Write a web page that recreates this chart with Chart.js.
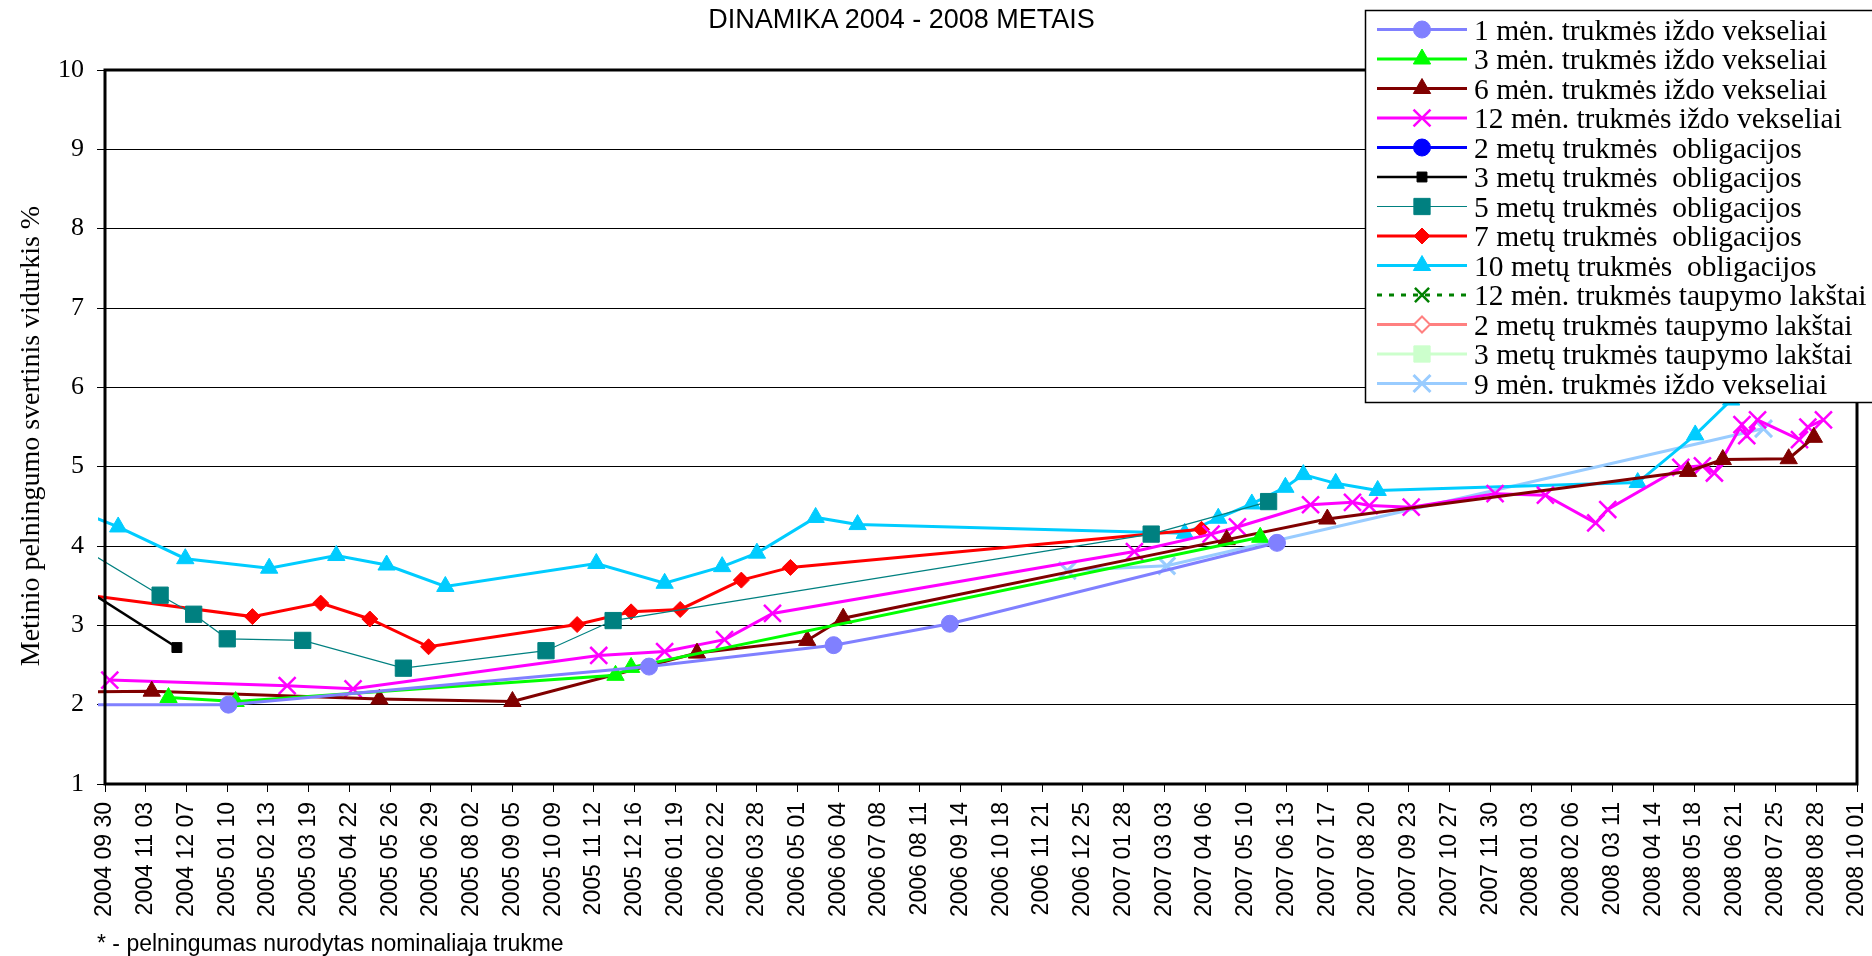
<!DOCTYPE html>
<html lang="lt">
<head>
<meta charset="utf-8">
<title>Dinamika 2004 - 2008 metais</title>
<script src="https://cdn.jsdelivr.net/npm/chart.js@4.4.1/dist/chart.umd.min.js"></script>
<style>
  html, body { margin: 0; padding: 0; background: #fff; }
  #wrap { position: relative; width: 1872px; height: 956px; overflow: hidden; }
  #chart { position: absolute; left: 0; top: 0; }
  .title { position: absolute; top: 6px; left: 0; width: 1803px; text-align: center;
           font: 27px/1 "Liberation Sans", Arial, sans-serif; color: #000; }
  .ytitle { position: absolute; left: -270px; top: 419px; width: 600px; height: 34px;
            line-height: 34px; text-align: center; transform: rotate(-90deg);
            font-family: "Liberation Serif", "Times New Roman", serif; font-size: 28px; color: #000; }
  .note { position: absolute; top: 932px; left: 97px;
          font: 23px/1 "Liberation Sans", Arial, sans-serif; color: #000; }
</style>
</head>
<body>
<div id="wrap">
  <canvas id="chart" width="1872" height="956"></canvas>
  <div class="title">DINAMIKA 2004 - 2008 METAIS</div>
  <div class="ytitle">Metinio pelningumo svertinis vidurkis %</div>
  <div class="note">* - pelningumas nurodytas nominaliaja trukme</div>
</div>
<script>
// x axis: dates, one tick every 34 days from 2004 09 30 to 2008 10 01
const axisStart = '2004-09-30';
const axisEnd = '2008-10-01';
const tickStepDays = 34;
const yTicks = [1, 2, 3, 4, 5, 6, 7, 8, 9, 10];

const oneMonthDates = ['2004-09-10', '2005-01-11', '2005-12-28', '2006-05-31', '2006-09-05', '2007-06-05'];
const oneMonthValues = [2.00, 2.00, 2.48, 2.75, 3.02, 4.04];

const threeMonthDates = ['2004-11-22', '2005-01-17', '2005-11-30', '2005-12-13', '2007-05-22'];
const threeMonthValues = [2.09, 2.04, 2.37, 2.47, 4.11];

const sixMonthDates = ['2004-09-10', '2004-11-08', '2005-05-17', '2005-09-05', '2006-02-06', '2006-05-09',
  '2006-06-08', '2007-04-24', '2007-07-17', '2008-05-13', '2008-06-11', '2008-08-05', '2008-08-26'];
const sixMonthValues = [2.16, 2.17, 2.07, 2.04, 2.65, 2.81, 3.09, 4.08, 4.34, 4.94, 5.09, 5.10, 5.37];

const twelveMonthDates = ['2004-10-04', '2005-03-01', '2005-04-25', '2005-11-16', '2006-01-10', '2006-03-01',
  '2006-04-10', '2007-02-06', '2007-04-11', '2007-05-03', '2007-07-03', '2007-08-07', '2007-08-21',
  '2007-09-25', '2007-12-04', '2008-01-15', '2008-02-26', '2008-03-07', '2008-05-07', '2008-05-25',
  '2008-06-04', '2008-06-27', '2008-07-01', '2008-07-10', '2008-08-14', '2008-08-21', '2008-09-03'];
const twelveMonthValues = [2.31, 2.24, 2.20, 2.62, 2.67, 2.82, 3.15, 3.93, 4.15, 4.24, 4.52, 4.55, 4.51,
  4.49, 4.66, 4.64, 4.29, 4.46, 4.99, 5.01, 4.92, 5.53, 5.39, 5.59, 5.34, 5.50, 5.59];

const twoYearBondDates = [];
const twoYearBondValues = [];

const threeYearBondDates = ['2004-09-10', '2004-11-29'];
const threeYearBondValues = [3.49, 2.72];

const fiveYearBondDates = ['2004-09-10', '2004-11-15', '2004-12-13', '2005-01-10', '2005-03-14', '2005-06-06',
  '2005-10-03', '2005-11-28', '2007-02-20', '2007-05-29'];
const fiveYearBondValues = [3.98, 3.38, 3.14, 2.83, 2.81, 2.46, 2.68, 3.06, 4.15, 4.56];

const sevenYearBondDates = ['2004-09-10', '2005-01-31', '2005-03-29', '2005-05-09', '2005-06-27', '2005-10-29',
  '2005-12-13', '2006-01-23', '2006-03-15', '2006-04-25', '2007-04-03'];
const sevenYearBondValues = [3.39, 3.11, 3.28, 3.08, 2.73, 3.01, 3.17, 3.20, 3.57, 3.73, 4.21];

const tenYearBondDates = ['2004-09-10', '2004-10-11', '2004-12-06', '2005-02-14', '2005-04-11', '2005-05-23',
  '2005-07-11', '2005-11-14', '2006-01-10', '2006-02-27', '2006-03-28', '2006-05-16', '2006-06-20',
  '2007-03-20', '2007-04-17', '2007-05-15', '2007-06-12', '2007-06-27', '2007-07-24', '2007-08-28',
  '2008-04-01', '2008-05-19', '2008-06-18'];
const tenYearBondValues = [4.43, 4.24, 3.84, 3.72, 3.88, 3.76, 3.49, 3.78, 3.53, 3.74, 3.91, 4.36, 4.27,
  4.16, 4.35, 4.53, 4.74, 4.90, 4.79, 4.70, 4.80, 5.40, 5.84];

const savings12mDates = [];
const savings12mValues = [];
const savings2yDates = [];
const savings2yValues = [];
const savings3yDates = [];
const savings3yValues = [];

const nineMonthDates = ['2006-12-12', '2007-03-05', '2008-07-15'];
const nineMonthValues = [3.69, 3.75, 5.48];

const DAY = 86400000;
const START = Date.parse(axisStart);

function dayNum(s) {
    return Math.round((Date.parse(s) - START) / DAY);
}

function pad(n) {
    return (n < 10 ? '0' : '') + n;
}

function dayLabel(d) {
    const dt = new Date(START + Math.round(d) * DAY);
    return dt.getUTCFullYear() + ' ' + pad(dt.getUTCMonth() + 1) + ' ' + pad(dt.getUTCDate());
}

function points(dates, values) {
    return dates.map((d, i) => ({ x: dayNum(d), y: values[i] }));
}

function series(label, dates, values, color, style) {
    return Object.assign({
        label: label,
        data: points(dates, values),
        borderColor: color,
        backgroundColor: color,
        pointBackgroundColor: color,
        pointBorderColor: color,
        borderWidth: 3,
        pointBorderWidth: 1,
        pointRadius: 9,
        tension: 0,
        clip: { left: 7, top: 10, right: 10, bottom: 10 }
    }, style);
}

// plot frame drawn over the lines
const plotFrame = {
    id: 'plotFrame',
    afterDatasetsDraw(chart) {
        const { ctx, chartArea } = chart;
        ctx.save();
        ctx.strokeStyle = '#000';
        ctx.lineWidth = 3;
        ctx.strokeRect(chartArea.left, chartArea.top, chartArea.right - chartArea.left, chartArea.bottom - chartArea.top);
        ctx.restore();
    }
};

// legend box sitting on top of the upper right corner of the plot
const legendBox = {
    id: 'legendBox',
    afterDraw(chart) {
        const ctx = chart.ctx;
        const left = 1365.5, top = 10.5, rowH = 29.5;
        ctx.save();
        ctx.fillStyle = '#fff';
        ctx.fillRect(left, top, 520, 392);
        ctx.strokeStyle = '#000';
        ctx.lineWidth = 1.5;
        ctx.strokeRect(left, top, 520, 392);
        chart.data.datasets.forEach((ds, i) => {
            const y = 29.5 + i * rowH;
            ctx.beginPath();
            ctx.setLineDash(ds.borderDash || []);
            ctx.strokeStyle = ds.borderColor;
            ctx.lineWidth = ds.borderWidth;
            ctx.moveTo(1377, y);
            ctx.lineTo(1467, y);
            ctx.stroke();
            ctx.setLineDash([]);
            ctx.fillStyle = ds.pointBackgroundColor;
            ctx.strokeStyle = ds.pointBorderColor;
            ctx.lineWidth = ds.pointBorderWidth;
            Chart.helpers.drawPoint(ctx, {
                pointStyle: ds.pointStyle,
                rotation: 0,
                radius: ds.pointRadius,
                borderWidth: ds.pointBorderWidth
            }, 1422, y);
            ctx.fillStyle = '#000';
            ctx.font = '29.5px "Liberation Serif", "Times New Roman", serif';
            ctx.textAlign = 'left';
            ctx.textBaseline = 'alphabetic';
            ctx.fillText(ds.label, 1474, y + 10);
        });
        ctx.restore();
    }
};

const ctx = document.getElementById('chart').getContext('2d');
new Chart(ctx, {
    type: 'line',
    data: {
        datasets: [
            series('1 mėn. trukmės iždo vekseliai', oneMonthDates, oneMonthValues, '#8080FF',
                { pointStyle: 'circle', pointRadius: 8.5 }),
            series('3 mėn. trukmės iždo vekseliai', threeMonthDates, threeMonthValues, '#00FF00',
                { pointStyle: 'triangle', pointRadius: 10 }),
            series('6 mėn. trukmės iždo vekseliai', sixMonthDates, sixMonthValues, '#800000',
                { pointStyle: 'triangle', pointRadius: 10 }),
            series('12 mėn. trukmės iždo vekseliai', twelveMonthDates, twelveMonthValues, '#FF00FF',
                { pointStyle: 'crossRot', pointRadius: 12, pointBorderWidth: 2.5 }),
            series('2 metų trukmės  obligacijos', twoYearBondDates, twoYearBondValues, '#0000FF',
                { pointStyle: 'circle', pointRadius: 8.5 }),
            series('3 metų trukmės  obligacijos', threeYearBondDates, threeYearBondValues, '#000000',
                { pointStyle: 'rect', pointRadius: 7, borderWidth: 2.5 }),
            series('5 metų trukmės  obligacijos', fiveYearBondDates, fiveYearBondValues, '#008080',
                { pointStyle: 'rect', pointRadius: 11.5, borderWidth: 1.2 }),
            series('7 metų trukmės  obligacijos', sevenYearBondDates, sevenYearBondValues, '#FF0000',
                { pointStyle: 'rectRot', pointRadius: 8 }),
            series('10 metų trukmės  obligacijos', tenYearBondDates, tenYearBondValues, '#00CCFF',
                { pointStyle: 'triangle', pointRadius: 10 }),
            series('12 mėn. trukmės taupymo lakštai', savings12mDates, savings12mValues, '#008000',
                { pointStyle: 'crossRot', pointRadius: 10, pointBorderWidth: 2.5, borderDash: [5, 7] }),
            series('2 metų trukmės taupymo lakštai', savings2yDates, savings2yValues, '#FF8080',
                { pointStyle: 'rectRot', pointRadius: 8, pointBackgroundColor: '#fff', pointBorderWidth: 2 }),
            series('3 metų trukmės taupymo lakštai', savings3yDates, savings3yValues, '#CCFFCC',
                { pointStyle: 'rect', pointRadius: 11.5 }),
            series('9 mėn. trukmės iždo vekseliai', nineMonthDates, nineMonthValues, '#99CCFF',
                { pointStyle: 'crossRot', pointRadius: 12, pointBorderWidth: 3 })
        ]
    },
    options: {
        responsive: false,
        animation: false,
        events: [],
        layout: { padding: { left: 0, right: 12, top: 70, bottom: 0 } },
        plugins: {
            legend: { display: false },
            title: { display: false },
            tooltip: { enabled: false }
        },
        scales: {
            x: {
                type: 'linear',
                min: dayNum(axisStart),
                max: dayNum(axisEnd),
                border: { display: false },
                grid: { drawOnChartArea: false, drawTicks: true, tickLength: 8, color: '#000', lineWidth: 1 },
                ticks: {
                    stepSize: tickStepDays,
                    autoSkip: false,
                    minRotation: 90,
                    maxRotation: 90,
                    padding: 10,
                    color: '#000',
                    font: { family: '"Liberation Sans", Arial, sans-serif', size: 23 },
                    callback: (value) => dayLabel(value)
                },
                afterFit(scale) {
                    scale.height = 172;
                    scale.paddingLeft = 0;
                    scale.paddingRight = 0;
                }
            },
            y: {
                min: yTicks[0],
                max: yTicks[yTicks.length - 1],
                border: { display: false },
                grid: { color: '#000', lineWidth: 1, tickLength: 8, tickColor: '#000' },
                ticks: {
                    stepSize: 1,
                    padding: 13,
                    color: '#000',
                    font: { family: '"Liberation Serif", "Times New Roman", serif', size: 26 }
                },
                afterFit(scale) {
                    scale.width = 105;
                    scale.paddingTop = 0;
                    scale.paddingBottom = 0;
                }
            }
        }
    },
    plugins: [plotFrame, legendBox]
});
</script>
</body>
</html>
